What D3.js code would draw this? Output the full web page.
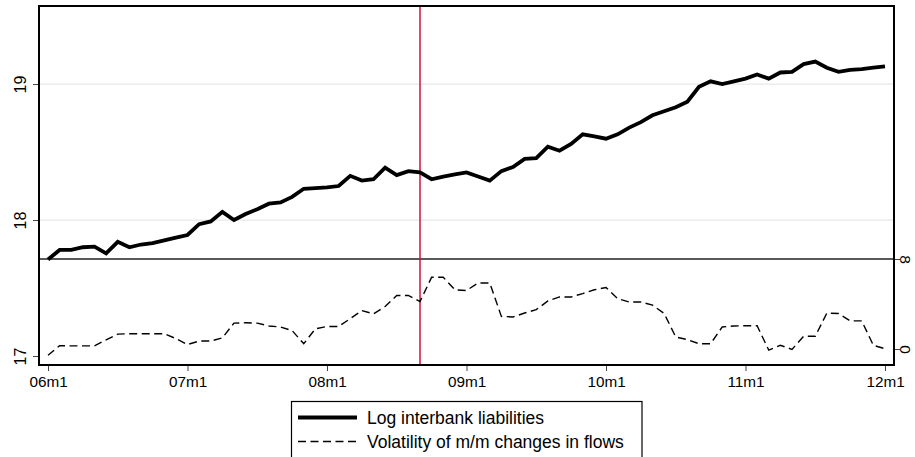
<!DOCTYPE html>
<html>
<head>
<meta charset="utf-8">
<script src="https://cdn.jsdelivr.net/npm/d3@7"></script>
<style>
  html, body { margin: 0; padding: 0; background: #fff; }
  svg { display: block; font-family: "Liberation Sans", Arial, Helvetica, sans-serif; }
</style>
</head>
<body>
<svg id="chart" width="915" height="457"></svg>
<script>
// Monthly series, 2006m1 .. 2012m1
const xTickLabels = ["06m1", "07m1", "08m1", "09m1", "10m1", "11m1", "12m1"];
const leftTicks = [17, 18, 19];
const rightTicks = [0, 8];

const logInterbank = [
  17.71, 17.78, 17.78, 17.80, 17.805, 17.755, 17.84, 17.80, 17.82, 17.83, 17.85, 17.87,
  17.89, 17.97, 17.99, 18.06, 18.00, 18.044, 18.08, 18.12, 18.13, 18.17, 18.23, 18.235,
  18.24, 18.25, 18.325, 18.29, 18.30, 18.385, 18.33, 18.36, 18.35, 18.30, 18.32, 18.335,
  18.35, 18.32, 18.29, 18.36, 18.39, 18.45, 18.455, 18.54, 18.51, 18.56, 18.63, 18.615,
  18.598, 18.63, 18.68, 18.72, 18.77, 18.80, 18.83, 18.87, 18.98, 19.02, 19.00, 19.02,
  19.04, 19.07, 19.04, 19.085, 19.09, 19.147, 19.165, 19.12, 19.09, 19.105, 19.11, 19.12,
  19.13
];

const volatility = [
  -0.56, 0.30, 0.28, 0.28, 0.28, 0.82, 1.32, 1.36, 1.36, 1.36, 1.36, 0.93,
  0.40, 0.71, 0.71, 1.00, 2.30, 2.33, 2.30, 2.05, 1.96, 1.64, 0.47, 1.80,
  2.00, 2.00, 2.70, 3.42, 3.13, 3.78, 4.76, 4.76, 4.22, 6.38, 6.38, 5.27,
  5.20, 5.87, 5.87, 2.90, 2.85, 3.20, 3.50, 4.27, 4.63, 4.63, 4.93, 5.27,
  5.47, 4.48, 4.18, 4.18, 3.90, 3.16, 1.07, 0.84, 0.47, 0.47, 1.96, 2.05,
  2.07, 2.07, -0.10, 0.33, -0.03, 1.13, 1.13, 3.20, 3.16, 2.50, 2.50, 0.33,
  0.03
];

const crisisMonth = 32;   // 2008m9
const refLevel = 8;       // reference line on the right axis
const legendLabels = ["Log interbank liabilities", "Volatility of m/m changes in flows"];

// Plot region
const plot = { left: 39, right: 894, top: 6, bottom: 365 };

const svg = d3.select("#chart");

const x = d3.scaleLinear().domain([0, 72]).range([48, 885]);
const yL = d3.scaleLinear().domain([16.934, 19.574]).range([plot.bottom, plot.top]);
const yR = d3.scaleLinear().domain([-1.42, 30.49]).range([plot.bottom, plot.top]);

// Grid lines on the left axis
svg.append("g")
  .selectAll("line")
  .data([18, 19])
  .join("line")
  .attr("x1", plot.left).attr("x2", plot.right)
  .attr("y1", d => yL(d)).attr("y2", d => yL(d))
  .attr("stroke", "#e8e8e8").attr("stroke-width", 1.3);

// Reference line at right-axis level
svg.append("line")
  .attr("x1", plot.left).attr("x2", plot.right)
  .attr("y1", yR(refLevel)).attr("y2", yR(refLevel))
  .attr("stroke", "#222").attr("stroke-width", 1.3);

// Crisis marker
svg.append("line")
  .attr("x1", x(crisisMonth)).attr("x2", x(crisisMonth))
  .attr("y1", plot.top).attr("y2", plot.bottom)
  .attr("stroke", "#d40f3c").attr("stroke-width", 1.5);

// Series
const idx = d3.range(logInterbank.length);

svg.append("path")
  .datum(idx)
  .attr("fill", "none")
  .attr("stroke", "#000")
  .attr("stroke-width", 1.4)
  .attr("stroke-dasharray", "8,4.5")
  .attr("d", d3.line().x(i => x(i)).y(i => yR(volatility[i])));

svg.append("path")
  .datum(idx)
  .attr("fill", "none")
  .attr("stroke", "#000")
  .attr("stroke-width", 3.8)
  .attr("stroke-linejoin", "miter")
  .attr("d", d3.line().x(i => x(i)).y(i => yL(logInterbank[i])));

// Frame
svg.append("rect")
  .attr("x", plot.left).attr("y", plot.top)
  .attr("width", plot.right - plot.left).attr("height", plot.bottom - plot.top)
  .attr("fill", "none").attr("stroke", "#000").attr("stroke-width", 2);

// Bottom axis
const xAxis = d3.axisBottom(x)
  .tickValues(d3.range(0, 73, 12))
  .tickFormat((d, i) => xTickLabels[i])
  .tickSize(5).tickPadding(5);
const gx = svg.append("g").attr("transform", `translate(0,${plot.bottom + 1})`).call(xAxis);
gx.select(".domain").remove();
gx.selectAll(".tick line").attr("stroke", "#444").attr("stroke-width", 1);
gx.selectAll(".tick text")
  .attr("font-size", 15.3).attr("fill", "#000")
  .attr("font-family", "Liberation Sans, Arial, sans-serif");

// Left axis
const yAxisL = d3.axisLeft(yL).tickValues(leftTicks).tickFormat(d3.format("d")).tickSize(5).tickPadding(0);
const gl = svg.append("g").attr("transform", `translate(${plot.left - 1},0)`).call(yAxisL);
gl.select(".domain").remove();
gl.selectAll(".tick line").attr("stroke", "#444").attr("stroke-width", 1);
gl.selectAll(".tick text")
  .attr("font-size", 16).attr("fill", "#000")
  .attr("font-family", "Liberation Sans, Arial, sans-serif")
  .attr("text-anchor", "middle")
  .attr("dy", null)
  .attr("x", null)
  .attr("transform", "translate(-12,0) rotate(-90)");

// Right axis
const yAxisR = d3.axisRight(yR).tickValues(rightTicks).tickFormat(d3.format("d")).tickSize(5).tickPadding(0);
const gr = svg.append("g").attr("transform", `translate(${plot.right + 1},0)`).call(yAxisR);
gr.select(".domain").remove();
gr.selectAll(".tick line").attr("stroke", "#444").attr("stroke-width", 1);
gr.selectAll(".tick text")
  .attr("font-size", 15.5).attr("fill", "#000")
  .attr("font-family", "Liberation Sans, Arial, sans-serif")
  .attr("text-anchor", "middle")
  .attr("dy", null)
  .attr("x", null)
  .attr("transform", "translate(5,0) rotate(90)");

// Legend
const legend = svg.append("g");
legend.append("rect")
  .attr("x", 291.5).attr("y", 401.5).attr("width", 350.5).attr("height", 60)
  .attr("fill", "#fff").attr("stroke", "#000").attr("stroke-width", 1.2);

const rows = [
  { label: legendLabels[0], y: 417.5, width: 3.8, dash: null },
  { label: legendLabels[1], y: 441.5, width: 1.4, dash: "8,4.5" }
];
rows.forEach(r => {
  legend.append("line")
    .attr("x1", 298).attr("x2", 357)
    .attr("y1", r.y).attr("y2", r.y)
    .attr("stroke", "#000").attr("stroke-width", r.width)
    .attr("stroke-dasharray", r.dash);
  legend.append("text")
    .attr("x", 367).attr("y", r.y + 6)
    .attr("font-size", 17.5).attr("fill", "#000")
    .text(r.label);
});
</script>
</body>
</html>
